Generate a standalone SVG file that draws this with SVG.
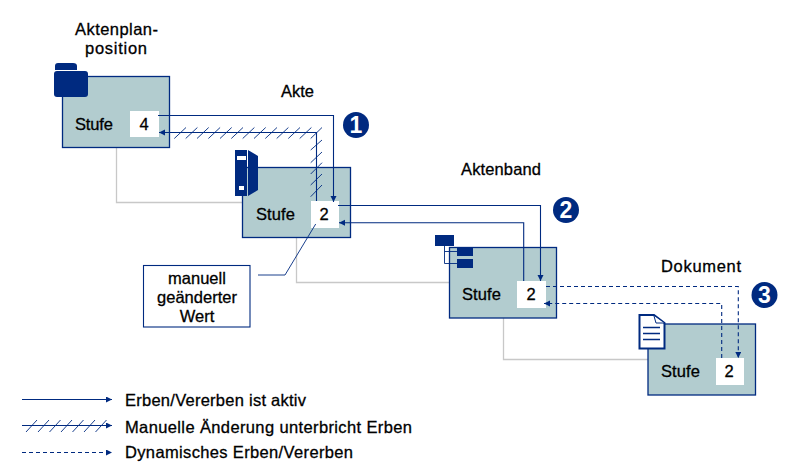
<svg xmlns="http://www.w3.org/2000/svg" width="792" height="470" viewBox="0 0 792 470">
<style>
text{font-family:"Liberation Sans",Arial,sans-serif;font-size:16.5px;fill:#000;stroke:#000;stroke-width:.3px}
.m{text-anchor:middle}
.b{fill:#b2cccf;stroke:#002a80;stroke-width:1.3}
.w{fill:#fff}
.n{fill:#002a80}
.g{fill:none;stroke:#c8c8c8;stroke-width:1.3}
.c{fill:none;stroke:#002a80;stroke-width:1.1}
.d{stroke-dasharray:4 3}
.h{fill:none;stroke:#002a80;stroke-width:.9}
.num{font-weight:bold;fill:#fff;stroke:none;font-size:23px;text-anchor:middle}
</style>
<defs>
<marker id="a" markerUnits="userSpaceOnUse" markerWidth="7" markerHeight="7" refX="6" refY="3" orient="auto"><path d="M0 0L6 3L0 6Z" fill="#002a80"/></marker>
</defs>
<g id="greylines">
<path class="g" d="M116.500 147V202.500H242.500M296.500 237V282.500H449.500M503.500 318V359.500H648"/>
</g>
<g id="node-aktenplan">
<rect class="b" x="62.500" y="76.500" width="107" height="71"/>
<rect class="w" x="130" y="111" width="29" height="26"/>
<path class="n" d="M55 70V66Q55 63 58 63H73Q77 63 77 66V70Z"/>
<rect class="n" x="54" y="71" width="34" height="26" rx="3"/>
<text x="75" y="130" textLength="38">Stufe</text>
<text class="m" x="144" y="130">4</text>
<text x="75" y="35" textLength="83">Aktenplan-</text>
<text x="85" y="54" textLength="62">position</text>
</g>
<g id="node-akte">
<rect class="b" x="242.500" y="167.500" width="108" height="70"/>
<rect class="w" x="311" y="201" width="28" height="27"/>
<path class="n" d="M235 150H247V196H235ZM248 150L258 156V190L248 196Z"/>
<rect x="237" y="156" width="9" height="4" fill="#fff"/>
<rect x="239" y="186" width="5" height="4" fill="#fff"/>
<text x="256" y="220" textLength="39">Stufe</text>
<text class="m" x="324" y="220">2</text>
<text x="281" y="97">Akte</text>
</g>
<g id="node-aktenband">
<rect class="b" x="449.500" y="247.500" width="107" height="70.500"/>
<rect class="w" x="517" y="281" width="29" height="27"/>
<path class="h" d="M444.500 245V263.500H457M444.500 251.500H457"/>
<rect class="n" x="435" y="235" width="19" height="11"/>
<rect class="n" x="457" y="248" width="16" height="8"/>
<rect class="n" x="457" y="259" width="16" height="9"/>
<text x="462" y="300" textLength="39">Stufe</text>
<text class="m" x="531" y="300">2</text>
<text x="461" y="175" textLength="80">Aktenband</text>
</g>
<g id="node-dokument">
<rect class="b" x="648" y="324" width="107.500" height="71"/>
<rect class="w" x="716" y="358" width="28" height="27"/>
<path d="M639.500 315H654L664.500 323V348.500H639.500Z" fill="#fff" stroke="#002a80" stroke-width="2"/>
<path d="M654 316L656 323H664" fill="#fff" stroke="#002a80" stroke-width="1"/>
<path d="M643 327.500H660M643 333.500H660M643 339.500H660" fill="none" stroke="#002a80" stroke-width="1.500"/>
<text x="661" y="377" textLength="39">Stufe</text>
<text class="m" x="729" y="377">2</text>
<text x="661" y="272" textLength="80">Dokument</text>
</g>
<g id="node-note">
<rect x="143.500" y="265.500" width="106.500" height="61.500" fill="#fff" stroke="#002a80" stroke-width="1.100"/>
<text class="m" x="197" y="284">manuell</text>
<text class="m" x="197" y="303">geänderter</text>
<text class="m" x="197" y="322">Wert</text>
</g>
<g id="badges">
<circle class="n" cx="356" cy="125" r="13"/><text class="num" x="356" y="133">1</text>
<circle class="n" cx="566" cy="210" r="13"/><text class="num" x="566" y="218">2</text>
<circle class="n" cx="764.500" cy="295" r="13"/><text class="num" x="764.500" y="303">3</text>
</g>
<g id="connectors">
<path class="c" marker-end="url(#a)" d="M158 115.500H333.500V202"/>
<path class="c" marker-end="url(#a)" d="M316.500 201V132.500H159"/>
<path class="h" d="M174.300 138.500L186 127.500M185.700 138.500L197.400 127.500M197 138.500L208.700 127.500M208.400 138.500L220.100 127.500M220 138.500L231.700 127.500M231.300 138.500L243 127.500M242.700 138.500L254.400 127.500M254 138.500L265.700 127.500M265.300 138.500L277 127.500M276.700 138.500L288.400 127.500M288.300 138.500L300 127.500M299.700 138.500L311.400 127.500M310.700 138.500L322 127.500"/>
<path class="h" d="M310.700 150L322 140M310.700 162.700L322 152M310.700 174L322 162.700M310.700 185L322 174M310.700 196.700L322 185"/>
<path class="c" marker-end="url(#a)" d="M338 205.500H540.500V281"/>
<path class="c" marker-end="url(#a)" d="M523.700 281V222.700H339"/>
<path class="c d" marker-end="url(#a)" d="M546 286.500H738.300V358"/>
<path class="c d" marker-end="url(#a)" d="M721.700 358V303.500H544"/>
<path class="h" d="M315.700 224L285 275H258"/>
</g>
<g id="legend">
<path class="c" marker-end="url(#a)" d="M22 399.500H112"/>
<path class="c" marker-end="url(#a)" d="M22 425.500H112"/>
<path class="h" d="M26 432L37 420M38 432L49 420M49.500 432L60.500 420M61 432L72 420M72.500 432L83.500 420M84 432L95 420M95.500 432L106.500 420"/>
<path class="c d" marker-end="url(#a)" d="M22 452.500H112"/>
<text x="125" y="406" textLength="181">Erben/Vererben ist aktiv</text>
<text x="125" y="433" textLength="287">Manuelle Änderung unterbricht Erben</text>
<text x="125" y="458" textLength="228">Dynamisches Erben/Vererben</text>
</g>
</svg>
